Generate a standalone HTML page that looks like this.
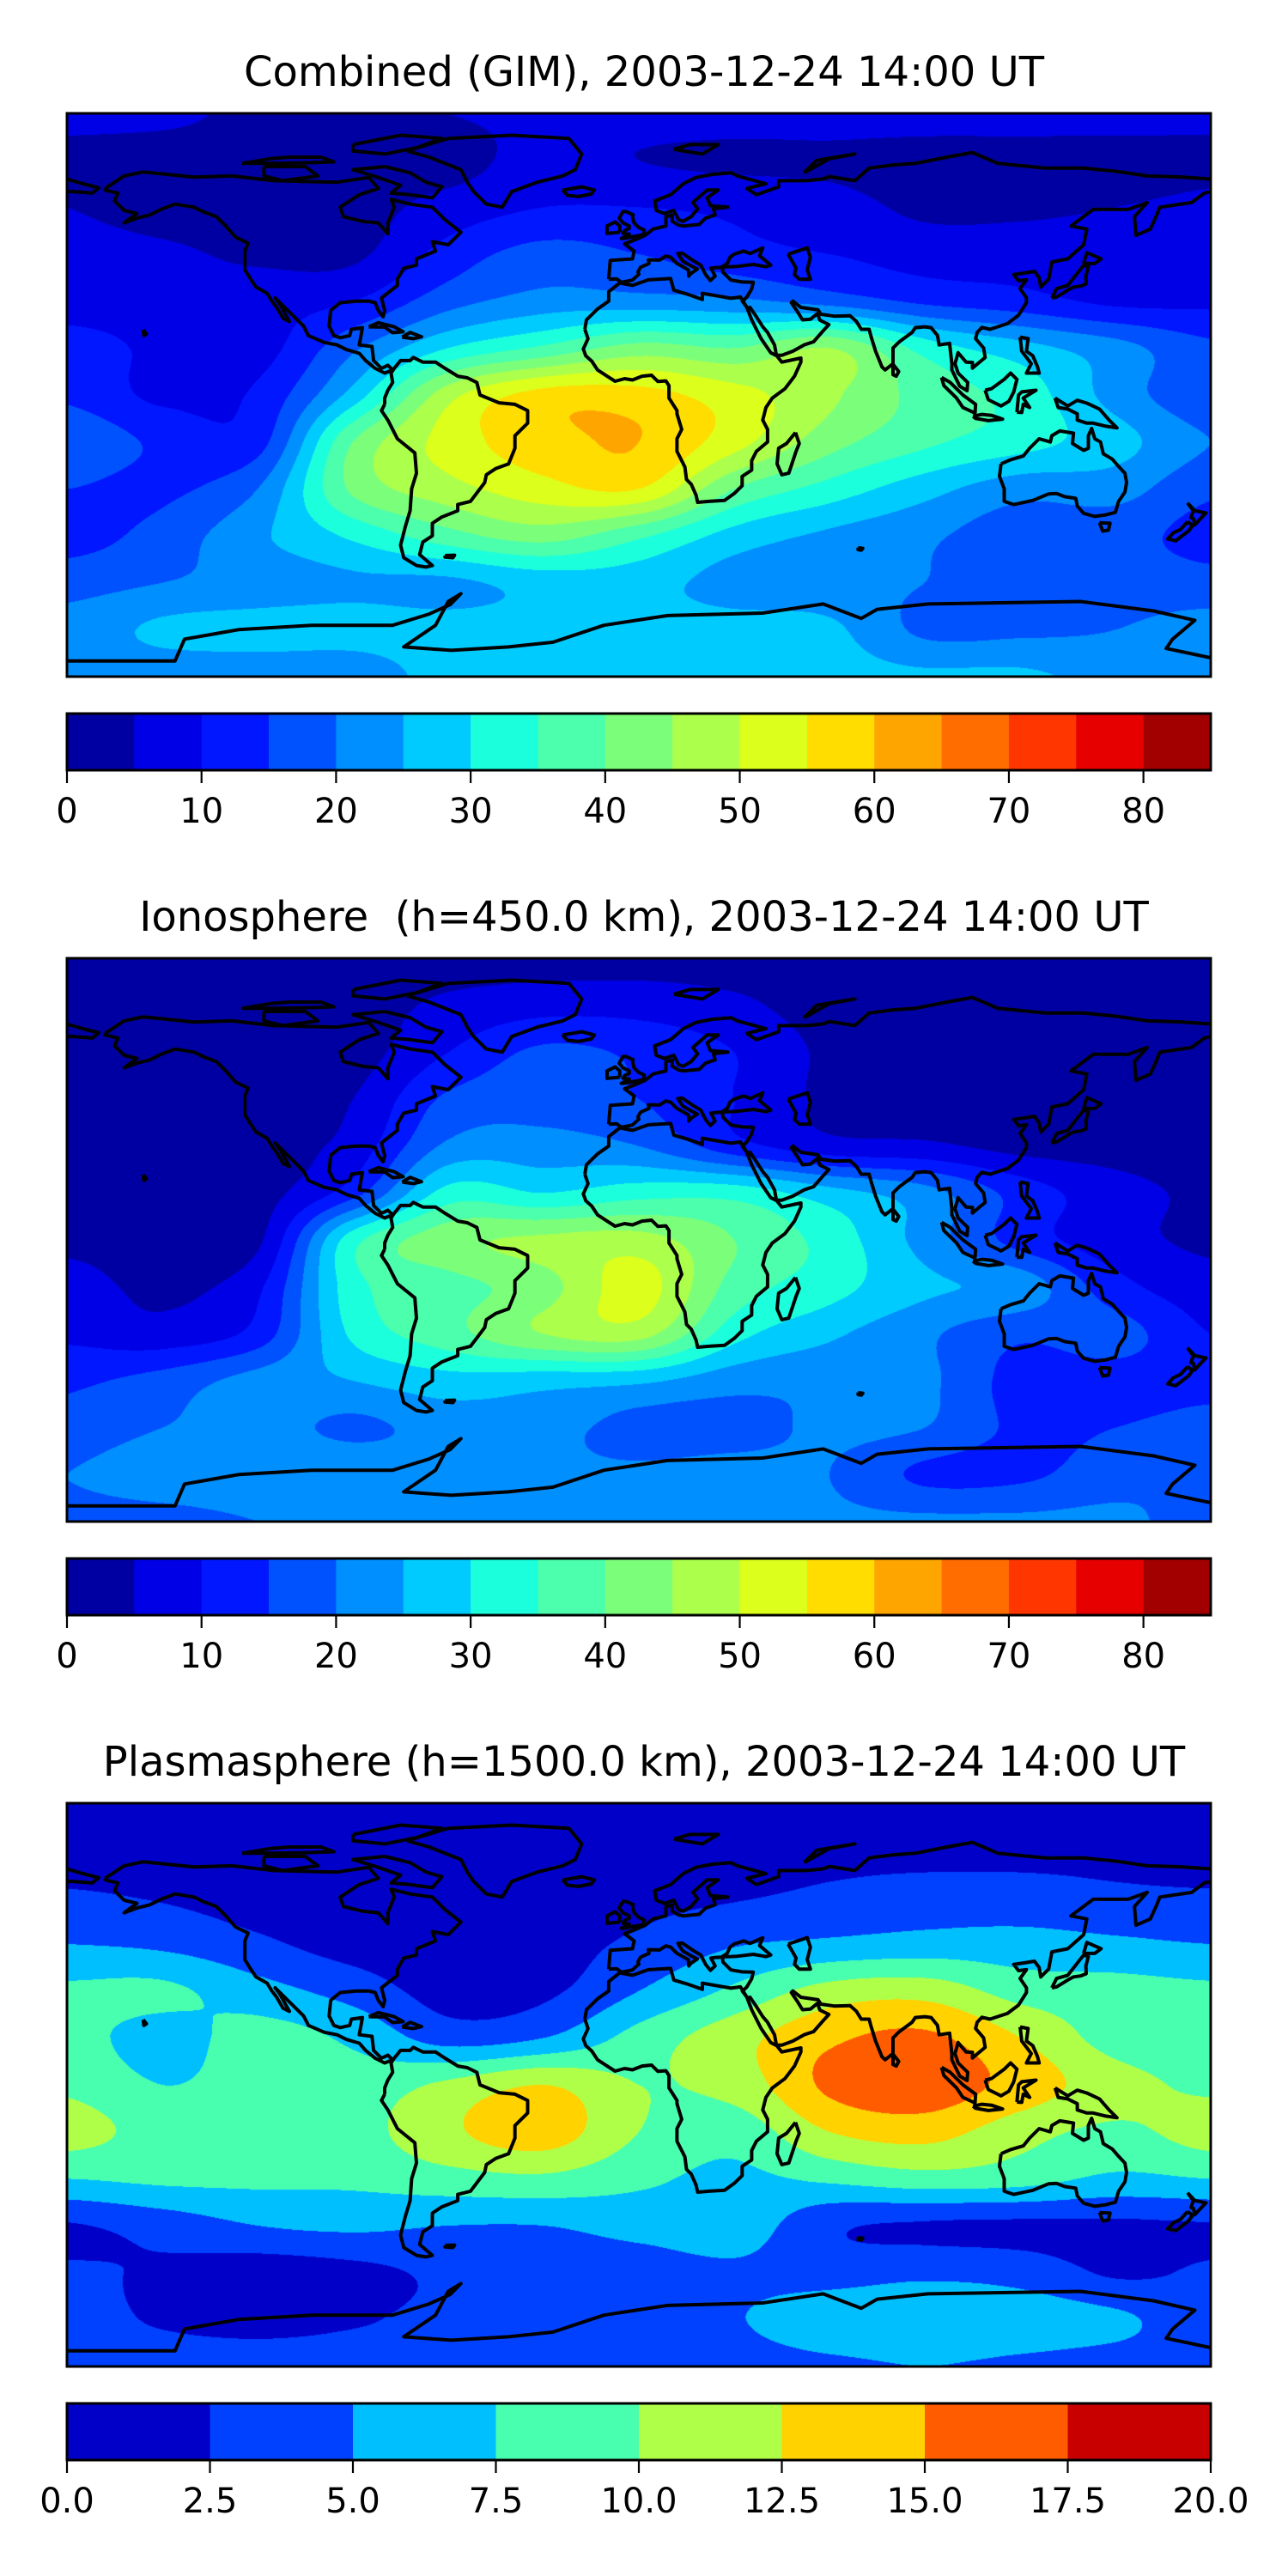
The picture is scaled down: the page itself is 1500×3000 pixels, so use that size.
<!DOCTYPE html>
<html><head><meta charset="utf-8">
<style>
html,body{margin:0;padding:0;background:#fff;}
body{width:1500px;height:3000px;position:relative;overflow:hidden;font-family:"DejaVu Sans","Liberation Sans",sans-serif;}
.title{position:absolute;left:0;width:1500px;text-align:center;font-size:48px;color:#000;line-height:1;white-space:pre;}
canvas{position:absolute;}
svg{position:absolute;left:0;top:0;overflow:visible;}
</style></head>
<body>
<div id="root"></div>
<script>
// ---------- chart data ----------
const gridLons = [-180,-150,-120,-90,-60,-30,0,30,60,90,120,150,180];
const gridLats = [90,75,60,45,30,15,0,-15,-30,-45,-60,-75,-90];
const tecCombined = [
 [6,6,4,4,5,6,7,7,7,7,7,7,6],
 [4,3,3,3,3,7,5,4,4,3,3,3,4],
 [5,3,3,3,7,10,10,9,7,4,4,5,6],
 [7,6,4,4,12,17,15,12,10,8,8,8,8],
 [8,8,8,10,18,22,22,21,18,14,12,9,9],
 [12,9,8,19,30,36,42,40,45,33,27,22,16],
 [14,9,11,27,48,57,57,52,46,38,33,23,16],
 [19,14,13,40,52,58,60,52,42,36,32,27,20],
 [15,14,20,41,48,53,55,40,33,27,22,22,16],
 [13,17,24,31,38,42,36,28,24,21,17,17,13],
 [18,20,22,24,24,27,27,23,22,20,18,18,17],
 [22,26,27,27,27,27,27,27,26,19,19,20,22],
 [22,22,22,22,27,27,27,27,27,26,26,23,22]
];
const tecIono = [
 [3,3,3,3,3,3,3,3,3,3,3,3,3],
 [3,3,3,3,6,8,8,6,3,3,3,3,3],
 [3,3,3,3,10,16,14,10,4,3,3,3,3],
 [3,3,3,5,16,18,15,10,4,3,3,3,3],
 [3,3,3,7,21,22,20,12,7,6,3.5,3,3],
 [4,3,3,13,32,30,33,33,27,22,13,7,4],
 [4,3,4,33,43,46,47,40,33,23,13,7,4],
 [7,4,9,33,38,43,52,38,32,26,23,12,7],
 [9,7,12,31,38,45,47,32,26,21,16,17,10],
 [14,17,22,25,28,27,26,22,21,21,13,13,13],
 [17,20,22,19,22,22,18,18,21,20,14,15,17],
 [20,23,24,24,22,21,21,22,20,14,14,18,20],
 [18,18,20,21,21,21,21,21,21,21,21,21,18]
];
const tecPlasma = [
 [1,1,1,1,1,1,1,1,1,1,1,1,1],
 [1.5,1.5,1.5,1.5,1.2,1.2,1.5,1.5,1.8,1.8,1.8,1.8,1.5],
 [2.8,2.3,1.5,1.2,1,1.2,1.8,2.3,3,3.5,3.5,3,2.8],
 [5,4.5,3,1.5,1,1.5,3,4.8,5.5,6,6,5.5,5],
 [8,8,6,4,1.5,2,5,8,11,11.5,9,8.5,8],
 [8.5,6.5,8.5,7,4,5,8.5,11.5,14.5,15.5,12.5,9,8.5],
 [9.5,7.5,8.5,8.5,10.5,12.5,10,11,15.5,16.5,14,11,9.5],
 [11,9,8.5,9,12,13.8,10,8.5,12.5,13.5,11,9.5,11],
 [7.5,8,8,8,9,9.5,8,7,8,9,8.5,7,7.5],
 [2.3,3.5,5,5.5,5,5,6,6.5,3,2.2,2,2,2.3],
 [2.8,2.2,1.2,1.8,3,3.5,3.5,4.5,4,4.5,4,2.2,2.8],
 [3.5,2.2,1.5,2.2,3.2,3.5,3.5,4.8,6.5,7,6.5,5.5,3.5],
 [4,4,4,4,4,4,4,4,4.5,5,4.5,4,4]
];
const titles = ["Combined (GIM), 2003-12-24 14:00 UT","Ionosphere  (h=450.0 km), 2003-12-24 14:00 UT","Plasmasphere (h=1500.0 km), 2003-12-24 14:00 UT"];
const levelsTec = [0,5,10,15,20,25,30,35,40,45,50,55,60,65,70,75,80,85];
const levelsPlasma = [0,2.5,5,7.5,10,12.5,15,17.5,20];
const tickValsTec = [0,10,20,30,40,50,60,70,80];
const tickLabelsTec = ["0","10","20","30","40","50","60","70","80"];
const tickValsPlasma = [0,2.5,5,7.5,10,12.5,15,17.5,20];
const tickLabelsPlasma = ["0.0","2.5","5.0","7.5","10.0","12.5","15.0","17.5","20.0"];

// ---------- coastlines (lon,lat) ----------
const coasts = {
 northAmerica:[[-168,66],[-162,70],[-156,71.3],[-140,69.6],[-128,70],[-115,68.5],[-95,68],[-85,69.5],[-82,66],[-88,64],[-94,60],[-93,57],[-87,55.5],[-82,55],[-79,51.5],[-79,55],[-77,60],[-78,62.5],[-72,61],[-65,60],[-61,56],[-56,52],[-60,48],[-65,49],[-64,46],[-70,43.5],[-70,41.5],[-74,40.5],[-76,37],[-76,35],[-81,31],[-80,27],[-80.5,25],[-82,27],[-83,29.5],[-85,30],[-89,30],[-94,29.5],[-97,27],[-97.5,22],[-96,19],[-94,18.3],[-91,19],[-90.5,21],[-87,21.5],[-88,16],[-84,15.5],[-83.5,11],[-81,8.5],[-79,9.5],[-77.5,8],[-80,7],[-83,8.5],[-86,11],[-88,13.3],[-92,14.5],[-95,16],[-99,16.8],[-104,19],[-105.5,22],[-109,25.5],[-112.5,29],[-114.5,31],[-113,29],[-110,23.5],[-112,24.5],[-114,28],[-115.5,30],[-117,32.5],[-120.5,34.5],[-122.5,37.5],[-124,40],[-124,46],[-123,48.5],[-127,50.5],[-130,54],[-133,57],[-137,58.5],[-140,60],[-146,61],[-150,59.5],[-154,57.5],[-158,56.5],[-162,55],[-158,58],[-162,59],[-165,62],[-164,64.5],[-168,65.5],[-168,66]],
 greenland:[[-73,78],[-60,82],[-40,83],[-22,82],[-18,77],[-20,72],[-24,70],[-32,68],[-40,65],[-43,60],[-48,61],[-52,65],[-54,68],[-56,72],[-66,76],[-73,78]],
 baffin:[[-80,73],[-72,71],[-67,68],[-62,66.5],[-65,63],[-72,64],[-78,64.5],[-75,67],[-82,69.5],[-90,72],[-80,73]],
 victoria:[[-118,73],[-105,73],[-101,70],[-112,68.5],[-118,70],[-118,73]],
 ellesmere:[[-90,80],[-75,83],[-62,82],[-70,79],[-80,77],[-90,78],[-90,80]],
 banks:[[-125,74],[-116,75.5],[-110,76],[-100,76],[-96,74.5],[-105,74.2],[-115,74],[-125,74]],
 southAmerica:[[-80,-3],[-81,-5],[-79,-8],[-76,-14],[-70.5,-18.5],[-70,-25],[-71.5,-30],[-72,-37],[-73.5,-42],[-75,-48],[-74,-52],[-70,-54.5],[-67,-55],[-65,-54.5],[-69,-51],[-68,-47],[-65,-45],[-65,-41],[-62,-39],[-57,-37],[-57,-35],[-53,-34],[-48.5,-28],[-48,-25.5],[-45,-23.5],[-41,-22],[-39,-17],[-39,-13],[-35,-9],[-35,-5],[-39,-3],[-44,-2.5],[-50,0],[-51,4],[-54,5.5],[-57,6],[-61,8.5],[-64,10.5],[-68,10.5],[-71,12],[-72,11],[-75,11],[-77,8.5],[-78,7],[-77.5,4],[-79,1.5],[-80,-1],[-80,-3]],
 africa:[[-17,21],[-16.5,24],[-13,27.5],[-9.5,30],[-9.5,33],[-6,35.8],[-2,35],[3,36.8],[10,37.2],[11,33.5],[15,32.3],[20,30.5],[20,32.5],[25,31.6],[29,30.9],[32,31.3],[34,28],[35.5,24],[37,21],[38.5,18],[41.5,13.5],[43.4,12.5],[45,10.5],[51,11.8],[51,10.5],[49,6],[46,2],[42,-1],[40,-4],[39,-8],[40.5,-11],[40.5,-15],[37,-18],[35.5,-21],[35.5,-24],[32.5,-26],[32.5,-29],[30,-31.5],[27,-33.7],[22,-34],[18.5,-34.3],[18,-32],[16.5,-28.5],[15,-27],[14.5,-23],[12,-18],[12,-14],[13.5,-11],[12,-6],[12,-5],[9.5,-1],[9.5,3],[8.5,4.5],[6,4.3],[4,6.3],[1,6],[-2,4.8],[-4.5,5.2],[-7.5,4.4],[-10,6],[-13,8],[-14.8,10.8],[-16.7,12.5],[-17.5,14.7],[-16,18],[-17,21]],
 madagascar:[[49.3,-12],[50.5,-15.5],[49.5,-18],[47.2,-25],[45,-25.5],[43.5,-22],[44,-17],[46.5,-15.5],[49.3,-12]],
 eurasia:[[-9.5,37],[-9,43],[-2,43.5],[-1.5,46],[-4.5,48.3],[-1.5,49.5],[2,51],[4.5,53],[8.5,54],[8.5,57],[10.5,57.5],[10.5,55.5],[12.5,54.3],[14,54],[19,54.5],[21,56.5],[24,57.5],[23.5,59.5],[28,60],[22.5,60.5],[21.5,63],[25,65.5],[21.5,65.5],[17,61.5],[18.5,59.5],[16.5,57],[14,55.5],[12.5,56],[11,59],[8,58],[5.5,59],[5,62],[10,64],[14,67.5],[18,69.5],[23,70.5],[29,71],[31,70],[40,67.5],[34,66],[37,64],[44,66.5],[44,68.5],[53,68.5],[58,69],[60,69.8],[68,68.5],[72.5,72.5],[80,73.5],[87,74],[97,76],[105,77.5],[113,74],[128,72.5],[140,72.5],[150,71.5],[160,70],[170,69.7],[180,69],[180,65],[178,64.5],[174,61.5],[164,60],[163,57.5],[161,53],[156.5,51],[156,57],[160,61.5],[154,59.3],[143,59.3],[136,54],[141,53],[140,48],[135,43.5],[130,42.5],[129,37],[126.5,34.5],[126,37.5],[124.5,39.5],[121.5,39],[118,38.5],[119.5,36.5],[122,36.8],[120,34],[122,31],[122,29.5],[119.5,25.5],[116,22.8],[110.5,21],[108,21.6],[106.5,20],[106,18],[108.5,15],[109,12],[105,8.6],[105,10.4],[103,10.5],[100.5,13.5],[99.5,10],[100.5,7],[103.5,4],[103.3,1.4],[101,2.8],[98.5,8],[98.5,10],[97.8,16.5],[94.5,16],[94,19],[92,21.5],[90,21.8],[87,21.5],[86,20],[82,17],[80,15],[80,10],[77.5,8],[76.5,9],[74.5,14],[73,19],[72.5,21],[70,21],[68.5,23.5],[66.5,25.3],[61.5,25.2],[57.3,25.8],[56.4,27.2],[51,28],[48.5,30],[48,29.5],[50,26.5],[51.5,24],[54,24.2],[56.2,26],[57,23.9],[59.8,22.5],[58,20.5],[55,17],[52,16],[48.5,14],[45,12.7],[43.3,12.7],[42.7,16],[40.5,20],[39,21.8],[37,25],[35,28],[34.3,27.7],[32.6,29.9],[34,31.3],[35.5,33.9],[36,36],[32.5,36.1],[29,36.7],[26.5,39.2],[26.3,40.9],[29,41],[31,41.1],[36,41.7],[40,41],[41.5,41.5],[38,44.5],[39,47],[35,45.2],[33,46],[30,45],[28.7,44],[27.8,42],[26,40.8],[24,40.7],[22.7,40.5],[24,38],[22.5,36.6],[21,38.5],[19.5,41.5],[17,43],[13.7,45.3],[12.3,45.2],[13.8,42.8],[16,41.5],[18.4,40.2],[16.5,38.9],[15.7,38],[15.6,40],[12,42],[10,44],[8.5,44.4],[6.5,43.1],[3,43.2],[3.2,42],[0.5,40.8],[-0.3,39.3],[0,38.6],[-2,36.7],[-5.5,36],[-7,37.1],[-9.5,37]],
 chukotka:[[-180,69],[-175,67.5],[-170,66.2],[-172,64.5],[-178,65],[-180,65]],
 britain:[[-5,50],[1.5,51.2],[1.7,52.7],[0,53.5],[-1.5,55],[-2,57],[-1.8,57.6],[-4,58.6],[-5,58.6],[-6.2,56.5],[-5,55],[-3,54],[-3,53.3],[-4.5,52.5],[-5,51.7],[-3,51.4],[-5.5,50],[-5,50]],
 ireland:[[-6,52],[-6,54],[-7.5,55.3],[-10,54],[-10,51.6],[-6,52]],
 iceland:[[-24,65.5],[-18,66.5],[-14,65.5],[-15,64.2],[-19,63.4],[-22.5,63.8],[-24,65.5]],
 svalbard:[[11,78.5],[16,80],[25,80],[20,77],[11,78.5]],
 novayaZemlya:[[52,71],[56,75],[68,77],[60,75.5],[52,71]],
 caspian:[[47,45],[53,47],[54,44],[53,40],[54,37],[50.5,37],[49,38.5],[49.5,40.5],[47,45]],
 japan:[[130,31],[131.5,34],[135,35],[140,41.5],[141.5,41],[140.7,38],[140.8,35.5],[139,34.8],[136.8,34.5],[135,33.5],[131.5,31.3],[130,31]],
 hokkaido:[[140,42],[141,45.5],[145.5,43.5],[143.5,42],[140,42]],
 philippines:[[120,18.5],[122.5,18],[122,14],[124,12.5],[125.5,9],[126,7],[122,7],[123.5,10],[120.5,14],[120,18.5]],
 borneo:[[109,1.5],[110,-1.5],[114,-3.5],[116.5,-2],[118,1],[119,5],[117,7],[115,5],[111,2],[109,1.5]],
 sumatra:[[95.3,5.6],[98,4],[102,0],[106,-3],[105.8,-5.8],[102,-4],[100,-1],[96,3],[95.3,5.6]],
 java:[[105.2,-6.8],[108,-6.2],[111,-6.5],[114.5,-7.7],[110,-8.2],[106,-7.5],[105.2,-6.8]],
 sulawesi:[[119,-5.5],[119.5,0],[120.5,1],[125,1.5],[121,-1],[123,-4],[121,-3],[120.5,-5.6],[119,-5.5]],
 newGuinea:[[131,-1],[135,-3.5],[138,-1.7],[141,-2.6],[145,-4.5],[148,-8],[150.5,-10.5],[147,-10],[143,-9],[141,-9],[138,-8],[138,-6],[135,-4.5],[132,-4],[131,-1]],
 australia:[[114,-22],[113.5,-26],[115,-30],[115,-34],[118,-35],[124,-33.7],[129,-31.6],[131.5,-31.5],[134,-32.5],[137.5,-33],[138,-35.5],[140,-37.8],[143.5,-38.8],[147,-38.3],[150,-37.5],[151,-34],[153,-31],[153.5,-28],[153,-25],[150.7,-22.5],[149,-20.5],[146.2,-18.8],[145.3,-15],[143.5,-14],[142.5,-10.7],[141.5,-13],[141.5,-17],[140,-17.7],[136.5,-15.5],[136.8,-12.2],[132.5,-11.5],[130,-13],[129.5,-15],[126,-14],[123,-17],[121,-19.5],[117,-20.7],[114,-22]],
 tasmania:[[145,-40.8],[148.3,-41],[147.8,-43.2],[146,-43.5],[145,-40.8]],
 nzNorth:[[172.7,-34.5],[175,-37],[178.5,-37.7],[177,-39.3],[175,-41.5],[174.6,-39.5],[173.8,-39.2],[174.5,-37],[172.7,-34.5]],
 nzSouth:[[172.7,-40.5],[174.3,-41.7],[173,-43.5],[171,-45],[169,-46.6],[166.5,-46],[168.3,-44],[170.5,-43],[172.7,-40.5]],
 cuba:[[-85,21.8],[-82,23.1],[-77,21.8],[-74.2,20.2],[-77.5,19.9],[-80,21.7],[-85,21.8]],
 hispaniola:[[-74.5,18.5],[-72,20],[-68.4,18.6],[-71,18],[-74.5,18.5]],
 sriLanka:[[80,9.8],[81.8,7.5],[81,6],[80,6.5],[80,9.8]],
 hawaii:[[-156,20.8],[-155,19.5],[-155.8,19],[-156,20.8]],
 falklands:[[-61,-51.3],[-58,-51.2],[-58.5,-52],[-61,-51.8],[-61,-51.3]],
 kerguelen:[[69,-48.8],[70.5,-49],[70,-49.6],[69,-49.4],[69,-48.8]],
 antarctica:[[-180,-85],[-146,-85],[-143,-78],[-126,-75],[-103,-73.6],[-77.5,-73.6],[-66,-70],[-59.4,-67],[-56,-63.5],[-60,-66],[-64,-73.6],[-74,-80.5],[-59,-81.6],[-41,-80.5],[-27,-79],[-11,-73.6],[9,-70.5],[39,-69.7],[58,-66.8],[70,-71.4],[75,-68.5],[91,-66.8],[139,-66],[162,-69],[175,-72],[168,-78],[166,-81],[180,-84]]
};

// ---------- layout ----------
const MAP_X = 78, MAP_W = 1332, MAP_H = 656;
const panelTops = [132, 1116, 2100];
const SVGNS = "http://www.w3.org/2000/svg";

function xOfLon(lon){ return MAP_X + (lon + 180) / 360 * MAP_W; }
function yOfLat(lat, top){ return top + (90 - lat) / 180 * MAP_H; }

function jet(t){
  function seg(pts){ for(let i=0;i<pts.length-1;i++){ if(t<=pts[i+1][0]){ const f=(t-pts[i][0])/(pts[i+1][0]-pts[i][0]); return pts[i][1]+f*(pts[i+1][1]-pts[i][1]); } } return pts[pts.length-1][1]; }
  const r=seg([[0,0],[0.35,0],[0.66,1],[0.89,1],[1,0.5]]);
  const g=seg([[0,0],[0.125,0],[0.375,1],[0.64,1],[0.91,0],[1,0]]);
  const b=seg([[0,0.5],[0.11,1],[0.34,1],[0.65,0],[1,0]]);
  return [Math.round(r*255),Math.round(g*255),Math.round(b*255)];
}
function cr(p0,p1,p2,p3,t){ return 0.5*((2*p1)+(-p0+p2)*t+(2*p0-5*p1+4*p2-p3)*t*t+(-p0+3*p1-3*p2+p3)*t*t*t); }
function interp1(arr, g){
  const n = arr.length; let i = Math.floor(g); if(i>=n-1) i=n-2; if(i<0) i=0;
  const t = g - i;
  const a = arr[Math.max(i-1,0)], b = arr[i], c = arr[i+1], d = arr[Math.min(i+2,n-1)];
  return cr(a,b,c,d,t);
}

const root = document.getElementById('root');
const datasets = [tecCombined, tecIono, tecPlasma];
const levelSets = [levelsTec, levelsTec, levelsPlasma];
const tickSets = [tickValsTec, tickValsTec, tickValsPlasma];
const tickLabelSets = [tickLabelsTec, tickLabelsTec, tickLabelsPlasma];
const panelNames = ['combined','ionosphere','plasmasphere'];

for (let p = 0; p < 3; p++) {
  const top = panelTops[p];
  const data = datasets[p];
  const levels = levelSets[p];
  const nb = levels.length - 1;
  const vmin = levels[0], vmax = levels[nb];
  const palette = [];
  for (let k = 0; k < nb; k++) palette.push(jet((k + 0.5) / nb));

  const t = document.createElement('div');
  t.className = 'title';
  
  
  t.style.top = (top - 72) + 'px';
  t.textContent = titles[p];
  root.appendChild(t);

  const cv = document.createElement('canvas');
  
  
  cv.width = MAP_W; cv.height = MAP_H;
  cv.style.left = MAP_X + 'px'; cv.style.top = top + 'px';
  root.appendChild(cv);
  const ctx = cv.getContext('2d');
  const img = ctx.createImageData(MAP_W, MAP_H);
  const nR = gridLats.length, nC = gridLons.length;
  const lonStep = (gridLons[nC-1] - gridLons[0]) / (nC - 1);
  const latStep = (gridLats[0] - gridLats[nR-1]) / (nR - 1);
  const rowX = [];
  for (let r = 0; r < nR; r++) {
    const line = new Float32Array(MAP_W);
    for (let x = 0; x < MAP_W; x++) {
      const lon = -180 + (x + 0.5) / MAP_W * 360;
      line[x] = interp1(data[r], (lon - gridLons[0]) / lonStep);
    }
    rowX.push(line);
  }
  for (let y = 0; y < MAP_H; y++) {
    const lat = 90 - (y + 0.5) / MAP_H * 180;
    const g = (gridLats[0] - lat) / latStep;
    let i = Math.floor(g); if (i >= nR-1) i = nR-2; if (i < 0) i = 0;
    const tt = g - i;
    const ra = rowX[Math.max(i-1,0)], rb = rowX[i], rc = rowX[i+1], rd = rowX[Math.min(i+2,nR-1)];
    for (let x = 0; x < MAP_W; x++) {
      const v = cr(ra[x], rb[x], rc[x], rd[x], tt);
      let k = Math.floor((v - vmin) / (vmax - vmin) * nb);
      if (k < 0) k = 0; if (k > nb-1) k = nb-1;
      const c = palette[k];
      const o = (y * MAP_W + x) * 4;
      img.data[o] = c[0]; img.data[o+1] = c[1]; img.data[o+2] = c[2]; img.data[o+3] = 255;
    }
  }
  ctx.putImageData(img, 0, 0);

  const svg = document.createElementNS(SVGNS, 'svg');
  svg.setAttribute('width', 1500); svg.setAttribute('height', 3000);
  
  
  const clipId = 'clip' + p;
  const defs = document.createElementNS(SVGNS, 'defs');
  const cp = document.createElementNS(SVGNS, 'clipPath'); cp.setAttribute('id', clipId);
  const cr2 = document.createElementNS(SVGNS, 'rect');
  cr2.setAttribute('x', MAP_X); cr2.setAttribute('y', top); cr2.setAttribute('width', MAP_W); cr2.setAttribute('height', MAP_H);
  cp.appendChild(cr2); defs.appendChild(cp); svg.appendChild(defs);
  const cg = document.createElementNS(SVGNS, 'g');
  cg.setAttribute('clip-path', 'url(#' + clipId + ')');
  
  
  for (const key in coasts) {
    const pts = coasts[key];
    const d = pts.map((q, i) => (i ? 'L' : 'M') + xOfLon(q[0]).toFixed(1) + ' ' + yOfLat(q[1], top).toFixed(1)).join(' ');
    const path = document.createElementNS(SVGNS, 'path');
    path.setAttribute('d', d);
    path.setAttribute('fill', 'none'); path.setAttribute('stroke', '#000');
    path.setAttribute('stroke-width', '4'); path.setAttribute('stroke-linejoin', 'round');
    
    
    cg.appendChild(path);
  }
  svg.appendChild(cg);
  const frame = document.createElementNS(SVGNS, 'rect');
  frame.setAttribute('x', MAP_X); frame.setAttribute('y', top); frame.setAttribute('width', MAP_W); frame.setAttribute('height', MAP_H);
  frame.setAttribute('fill', 'none'); frame.setAttribute('stroke', '#000'); frame.setAttribute('stroke-width', '3');
  
  
  svg.appendChild(frame);

  const cbTop = top + 699, cbH = 66;
  const cbG = document.createElementNS(SVGNS, 'g');
  
  
  const cbx = v => MAP_X + (v - vmin) / (vmax - vmin) * MAP_W;
  for (let k = 0; k < nb; k++) {
    const r = document.createElementNS(SVGNS, 'rect');
    const x0 = cbx(levels[k]), x1 = cbx(levels[k+1]);
    r.setAttribute('x', x0); r.setAttribute('y', cbTop); r.setAttribute('width', x1 - x0 + 0.6); r.setAttribute('height', cbH);
    const c = palette[k];
    r.setAttribute('fill', 'rgb(' + c.join(',') + ')');
    
    
    cbG.appendChild(r);
  }
  const cbf = document.createElementNS(SVGNS, 'rect');
  cbf.setAttribute('x', MAP_X); cbf.setAttribute('y', cbTop); cbf.setAttribute('width', MAP_W); cbf.setAttribute('height', cbH);
  cbf.setAttribute('fill', 'none'); cbf.setAttribute('stroke', '#000'); cbf.setAttribute('stroke-width', '3');
  
  
  cbG.appendChild(cbf);
  const ticks = tickSets[p], tl = tickLabelSets[p];
  for (let k = 0; k < ticks.length; k++) {
    const x = cbx(ticks[k]);
    const ln = document.createElementNS(SVGNS, 'line');
    ln.setAttribute('x1', x); ln.setAttribute('x2', x);
    ln.setAttribute('y1', cbTop + cbH); ln.setAttribute('y2', cbTop + cbH + 15);
    ln.setAttribute('stroke', '#000'); ln.setAttribute('stroke-width', '2.2');
    
    
    cbG.appendChild(ln);
    const tx = document.createElementNS(SVGNS, 'text');
    tx.setAttribute('x', x); tx.setAttribute('y', top + 826);
    tx.setAttribute('text-anchor', 'middle');
    tx.setAttribute('font-size', '40');
    tx.setAttribute('font-family', '"DejaVu Sans","Liberation Sans",sans-serif');
    tx.textContent = tl[k];
    
    
    cbG.appendChild(tx);
  }
  svg.appendChild(cbG);
  root.appendChild(svg);
}
</script>
</body></html>
